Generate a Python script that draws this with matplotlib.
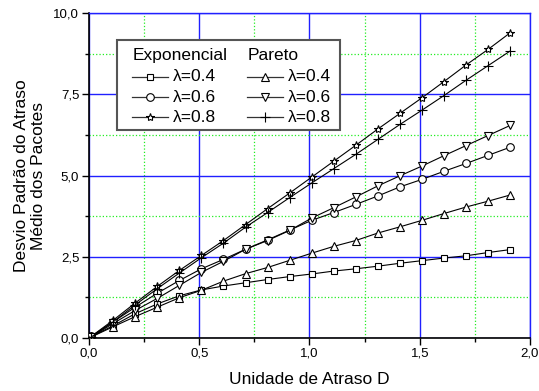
import matplotlib
matplotlib.use("Agg")
import matplotlib.pyplot as plt
from matplotlib.ticker import MultipleLocator, FuncFormatter
from matplotlib.patches import Rectangle
from matplotlib.lines import Line2D

plt.rcParams['font.family'] = ['Liberation Sans', 'DejaVu Sans']

# valores de D
x = [0.01, 0.11, 0.21, 0.31, 0.41, 0.51, 0.61, 0.71, 0.81, 0.91,
     1.01, 1.11, 1.21, 1.31, 1.41, 1.51, 1.61, 1.71, 1.81, 1.91]

# Exponencial
exp_04 = [0.04, 0.38, 0.75, 1.05, 1.30, 1.48, 1.60, 1.70, 1.80, 1.89,
          1.97, 2.06, 2.13, 2.21, 2.30, 2.38, 2.46, 2.53, 2.63, 2.72]
exp_06 = [0.05, 0.50, 0.95, 1.38, 1.77, 2.13, 2.42, 2.73, 3.02, 3.32,
          3.62, 3.86, 4.11, 4.37, 4.65, 4.88, 5.13, 5.37, 5.62, 5.87]
exp_08 = [0.05, 0.55, 1.08, 1.59, 2.08, 2.54, 3.00, 3.49, 3.98, 4.46,
          4.95, 5.44, 5.93, 6.43, 6.91, 7.39, 7.89, 8.40, 8.88, 9.39]

# Pareto
par_04 = [0.03, 0.35, 0.66, 0.95, 1.24, 1.47, 1.75, 1.98, 2.17, 2.39,
          2.61, 2.82, 3.00, 3.23, 3.42, 3.62, 3.83, 4.03, 4.21, 4.40]
par_06 = [0.03, 0.45, 0.85, 1.22, 1.62, 2.02, 2.36, 2.73, 3.00, 3.31,
          3.69, 4.01, 4.34, 4.68, 4.99, 5.29, 5.61, 5.92, 6.23, 6.54]
par_08 = [0.03, 0.50, 1.02, 1.52, 2.00, 2.47, 2.92, 3.41, 3.86, 4.32,
          4.77, 5.21, 5.65, 6.11, 6.57, 7.01, 7.46, 7.93, 8.38, 8.83]

lambdas = ["λ=0.4", "λ=0.6", "λ=0.8"]
exp_series = [(exp_04, 's'), (exp_06, 'o'), (exp_08, '*')]
par_series = [(par_04, '^'), (par_06, 'v'), (par_08, '+')]

fig = plt.figure(figsize=(5.39, 3.91), dpi=100)
ax = fig.add_axes([0.1651, 0.1355, 0.8182, 0.8313])

def marker_style(m):
    size = {'s': 5, 'o': 5.5, '*': 6, '^': 6, 'v': 6, '+': 6.5}[m]
    return dict(marker=m, markersize=size, markerfacecolor='white',
                markeredgecolor='black', markeredgewidth=0.8)

for y, m in exp_series + par_series:
    ax.plot(x, y, color='black', linewidth=0.8, zorder=3, **marker_style(m))

ax.set_xlim(0, 2.0)
ax.set_ylim(0, 10)
ax.xaxis.set_major_locator(MultipleLocator(0.5))
ax.xaxis.set_minor_locator(MultipleLocator(0.25))
ax.yaxis.set_major_locator(MultipleLocator(2.5))
ax.yaxis.set_minor_locator(MultipleLocator(1.25))
fmt = FuncFormatter(lambda v, p: f"{v:.1f}".replace('.', ','))
ax.xaxis.set_major_formatter(fmt)
ax.yaxis.set_major_formatter(fmt)

ax.grid(which='major', color='#2020ff', linestyle='-', linewidth=1.0)
ax.grid(which='minor', color='#22ee22', linestyle=':', linewidth=0.9)
ax.set_axisbelow(True)

ax.tick_params(which='major', direction='out', length=5, width=1, labelsize=9.5, pad=2)
ax.tick_params(which='minor', direction='out', length=3, width=1)
ax.tick_params(top=False, right=False, which='both')
for s in ['left', 'bottom']:
    ax.spines[s].set_linewidth(1.2)
    ax.spines[s].set_color('black')
for s in ['top', 'right']:
    ax.spines[s].set_color('#2020ff')
    ax.spines[s].set_linewidth(1.0)

ax.set_xlabel("Unidade de Atraso D", fontsize=12.5, labelpad=9)
ax.set_ylabel("Desvio Padrão do Atraso\nMédio dos Pacotes", fontsize=12.5, labelpad=5)

# legenda desenhada à mão (duas colunas com cabeçalho)
ax.add_patch(Rectangle((0.0635, 0.640), 0.5055, 0.277, transform=ax.transAxes,
                       facecolor='white', edgecolor='#555555', linewidth=1.5, zorder=5))
rows_y = [0.804, 0.741, 0.679]
cols = [(0.0975, "Exponencial", exp_series), (0.358, "Pareto", par_series)]
for x0, title, series in cols:
    ax.text(x0 + 0.002, 0.868, title, transform=ax.transAxes, fontsize=12.5,
            ha='left', va='center', zorder=6)
    for yy, (vals, m), lab in zip(rows_y, series, lambdas):
        ln = Line2D([x0, x0 + 0.0815], [yy, yy], transform=ax.transAxes, color='#333333',
                    linewidth=0.9, zorder=6)
        ax.add_line(ln)
        mk = Line2D([x0 + 0.041], [yy], transform=ax.transAxes, linestyle='none',
                    zorder=7, **marker_style(m))
        ax.add_line(mk)
        ax.text(x0 + 0.093, yy, lab, transform=ax.transAxes, fontsize=12.5,
                ha='left', va='center', zorder=6)

fig.savefig("out.png", dpi=100)
